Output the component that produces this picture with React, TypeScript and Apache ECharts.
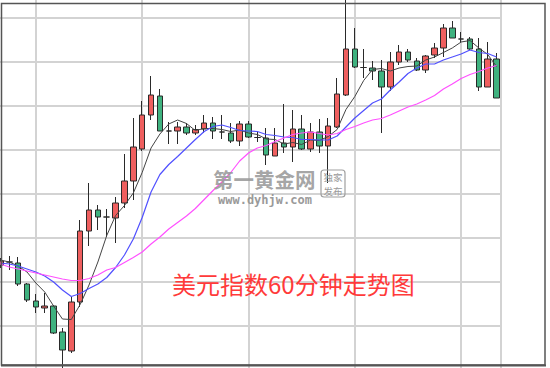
import React, { useEffect, useRef } from 'react';
import * as echarts from 'echarts';

const hours = [
  '01', '02', '03', '04', '05', '06', '07', '08', '09', '10',
  '11', '12', '13', '14', '15', '16', '17', '18', '19', '20',
  '21', '22', '23', '24', '25', '26', '27', '28', '29', '30',
  '31', '32', '33', '34', '35', '36', '37', '38', '39', '40',
  '41', '42', '43', '44', '45', '46', '47', '48', '49', '50',
  '51', '52', '53', '54', '55', '56', '57',
];

const opens = [
  93.138, 93.144, 93.142, 93.100, 93.066, 93.052, 93.056, 93.004, 92.966, 93.064,
  93.206, 93.248, 93.234, 93.232, 93.262, 93.306, 93.370, 93.438, 93.476, 93.406,
  93.406, 93.414, 93.402, 93.410, 93.422, 93.404, 93.402, 93.386, 93.420, 93.393,
  93.392, 93.356, 93.382, 93.374, 93.410, 93.370, 93.404, 93.376, 93.414, 93.478,
  93.570, 93.533, 93.532, 93.526, 93.494, 93.544, 93.564, 93.546, 93.528, 93.558,
  93.572, 93.612, 93.590, 93.590, 93.570, 93.494, 93.550,
];
const closes = [
  93.146, 93.144, 93.100, 93.068, 93.054, 93.056, 93.002, 92.968, 93.064, 93.206,
  93.248, 93.234, 93.234, 93.262, 93.306, 93.374, 93.438, 93.478, 93.406, 93.406,
  93.414, 93.402, 93.409, 93.422, 93.406, 93.404, 93.386, 93.420, 93.394, 93.393,
  93.358, 93.382, 93.374, 93.410, 93.370, 93.404, 93.376, 93.416, 93.480, 93.570,
  93.534, 93.533, 93.526, 93.494, 93.544, 93.564, 93.548, 93.528, 93.556, 93.572,
  93.612, 93.592, 93.590, 93.570, 93.494, 93.550, 93.472,
];
const lows = [
  93.132, 93.128, 93.096, 93.064, 93.042, 93.042, 93.000, 92.930, 92.962, 93.054,
  93.176, 93.208, 93.194, 93.182, 93.252, 93.268, 93.366, 93.428, 93.406, 93.380,
  93.380, 93.398, 93.398, 93.402, 93.390, 93.390, 93.382, 93.376, 93.392, 93.384,
  93.338, 93.356, 93.362, 93.344, 93.368, 93.364, 93.362, 93.302, 93.412, 93.476,
  93.532, 93.512, 93.508, 93.402, 93.486, 93.538, 93.544, 93.526, 93.522, 93.552,
  93.554, 93.592, 93.582, 93.568, 93.486, 93.494, 93.472,
];
const highs = [
  93.152, 93.156, 93.154, 93.102, 93.080, 93.082, 93.058, 93.012, 93.074, 93.228,
  93.302, 93.258, 93.250, 93.274, 93.360, 93.432, 93.466, 93.516, 93.490, 93.424,
  93.424, 93.422, 93.418, 93.438, 93.434, 93.438, 93.422, 93.426, 93.426, 93.406,
  93.412, 93.412, 93.460, 93.448, 93.438, 93.422, 93.430, 93.432, 93.512, 93.678,
  93.612, 93.570, 93.546, 93.548, 93.564, 93.578, 93.570, 93.552, 93.558, 93.582,
  93.620, 93.626, 93.604, 93.594, 93.592, 93.584, 93.562,
];

const ma5 = [
  93.148, 93.144, 93.136, 93.124, 93.102, 93.084, 93.056, 93.030, 93.029, 93.059,
  93.098, 93.144, 93.197, 93.237, 93.257, 93.282, 93.323, 93.372, 93.400, 93.420,
  93.428, 93.421, 93.407, 93.411, 93.411, 93.409, 93.405, 93.408, 93.402, 93.399,
  93.390, 93.389, 93.380, 93.383, 93.379, 93.388, 93.387, 93.395, 93.409, 93.449,
  93.475, 93.507, 93.529, 93.531, 93.526, 93.532, 93.535, 93.536, 93.548, 93.554,
  93.563, 93.572, 93.584, 93.587, 93.572, 93.559, 93.535,
];
const ma10 = [
  93.142, 93.140, 93.136, 93.130, 93.124, 93.116, 93.104, 93.088, 93.075, 93.081,
  93.091, 93.100, 93.113, 93.133, 93.158, 93.190, 93.233, 93.284, 93.319, 93.339,
  93.355, 93.372, 93.389, 93.405, 93.415, 93.418, 93.413, 93.407, 93.406, 93.405,
  93.399, 93.397, 93.394, 93.393, 93.389, 93.389, 93.388, 93.388, 93.396, 93.414,
  93.432, 93.447, 93.462, 93.470, 93.488, 93.504, 93.521, 93.532, 93.540, 93.540,
  93.548, 93.554, 93.560, 93.568, 93.563, 93.561, 93.554,
];
const ma20 = [
  93.140, 93.134, 93.130, 93.126, 93.122, 93.118, 93.114, 93.110, 93.107, 93.107,
  93.111, 93.118, 93.128, 93.133, 93.143, 93.153, 93.164, 93.180, 93.194, 93.210,
  93.223, 93.236, 93.251, 93.269, 93.287, 93.304, 93.323, 93.346, 93.362, 93.372,
  93.377, 93.385, 93.392, 93.399, 93.402, 93.404, 93.401, 93.398, 93.401, 93.409,
  93.415, 93.422, 93.428, 93.431, 93.438, 93.446, 93.454, 93.460, 93.468, 93.477,
  93.490, 93.500, 93.511, 93.519, 93.525, 93.532, 93.537,
];

const title = '美元指数60分钟走势图';
const GRID = '#d3d3d3';
// the chart canvas is larger than the page and shifted up/left so the
// plot area can start outside the visible frame
const OX = 20;
const OY = 40;
const W = 550 + OX;
const H = 368 + OY + 20;

export default function App() {
  const ref = useRef<HTMLDivElement>(null);
  useEffect(() => {
    if (!ref.current) return;
    const chart = echarts.init(ref.current, undefined, { renderer: 'svg' });
    const candles = opens.map((o, i) => [o, closes[i], lows[i], highs[i]]);
    const lineSeries = (name: string, data: number[], color: string, width: number) => ({
      name,
      type: 'line',
      data,
      symbol: 'none',
      silent: true,
      lineStyle: { color, width },
      z: 3,
    });
    chart.setOption({
      animation: false,
      grid: {
        left: OX - 4,
        right: W - (OX + 501),
        top: OY - 26,
        bottom: H - (OY + 370),
        show: true,
        borderColor: GRID,
        borderWidth: 2,
        backgroundColor: 'transparent',
      },
      xAxis: {
        type: 'category',
        data: hours,
        boundaryGap: true,
        axisLine: { show: false },
        axisTick: { show: false },
        axisLabel: { show: false },
        splitLine: {
          show: true,
          interval: (i: number) => i % 12 === 4,
          alignWithLabel: true,
          lineStyle: { color: GRID, width: 2 },
        },
      },
      yAxis: {
        type: 'value',
        min: 92.928,
        max: 93.72,
        interval: 0.088,
        axisLine: { show: false },
        axisTick: { show: false },
        axisLabel: { show: false },
        splitLine: { show: true, lineStyle: { color: GRID, width: 2 } },
      },
      series: [
        {
          type: 'candlestick',
          data: candles,
          barWidth: 6,
          clip: false,
          z: 2,
          itemStyle: {
            color: '#ef5f5f',
            color0: '#3fb27f',
            borderColor: '#2a2a2a',
            borderColor0: '#2a2a2a',
            borderColorDoji: '#2a2a2a',
            borderWidth: 1,
          },
        },
        lineSeries('MA5', ma5, '#444444', 1),
        lineSeries('MA10', ma10, '#5050ff', 1.2),
        lineSeries('MA20', ma20, '#ff50ff', 1.2),
      ],
      graphic: [
        {
          type: 'rect',
          shape: { x: OX + 1.5, y: OY + 3.5, width: 543.5, height: 361.5 },
          style: { fill: 'none', stroke: '#555', lineWidth: 1.5 },
          z: 10,
        },
        {
          type: 'line',
          shape: { x1: OX + 1, y1: OY + 365.5, x2: OX + 546, y2: OY + 365.5 },
          style: { stroke: '#555', lineWidth: 2 },
          z: 10,
        },
        {
          type: 'text',
          x: OX + 213,
          y: OY + 179,
          style: {
            text: '第一黄金网',
            fill: '#9a9a9a',
            fontSize: 20.5,
            fontWeight: 'bold',
            fontFamily: 'Noto Sans CJK SC',
            verticalAlign: 'middle',
            opacity: 0.9,
          },
          z: 5,
        },
        {
          type: 'text',
          x: OX + 218,
          y: OY + 200,
          style: {
            text: 'www.dyhjw.com',
            fill: '#9a9a9a',
            fontSize: 12,
            fontWeight: 'bold',
            fontFamily: 'DejaVu Sans Mono',
            verticalAlign: 'middle',
          },
          z: 5,
        },
        {
          type: 'rect',
          shape: { x: OX + 321, y: OY + 170, width: 24, height: 27, r: 3 },
          style: { fill: 'none', stroke: '#a0a0a0', lineWidth: 1.2 },
          z: 5,
        },
        {
          type: 'text',
          x: OX + 333,
          y: OY + 176.5,
          style: {
            text: '独家',
            fill: '#9a9a9a',
            fontSize: 9.5,
            fontFamily: 'Noto Sans CJK SC',
            align: 'center',
            verticalAlign: 'middle',
          },
          z: 5,
        },
        {
          type: 'text',
          x: OX + 333,
          y: OY + 190.5,
          style: {
            text: '发布',
            fill: '#9a9a9a',
            fontSize: 9.5,
            fontFamily: 'Noto Sans CJK SC',
            align: 'center',
            verticalAlign: 'middle',
          },
          z: 5,
        },
        {
          type: 'text',
          x: OX + 172,
          y: OY + 283,
          style: {
            text: title,
            fill: '#ff3a3a',
            fontSize: 24,
            fontFamily: 'Noto Sans CJK SC',
            verticalAlign: 'middle',
          },
          z: 6,
        },
      ],
    });
    return () => chart.dispose();
  }, []);
  return (
    <div
      style={{
        position: 'fixed',
        left: 0,
        top: 0,
        width: 550,
        height: 368,
        overflow: 'hidden',
        background: '#fff',
      }}
    >
      <div
        ref={ref}
        style={{ position: 'absolute', left: -OX, top: -OY, width: W, height: H }}
      />
    </div>
  );
}
